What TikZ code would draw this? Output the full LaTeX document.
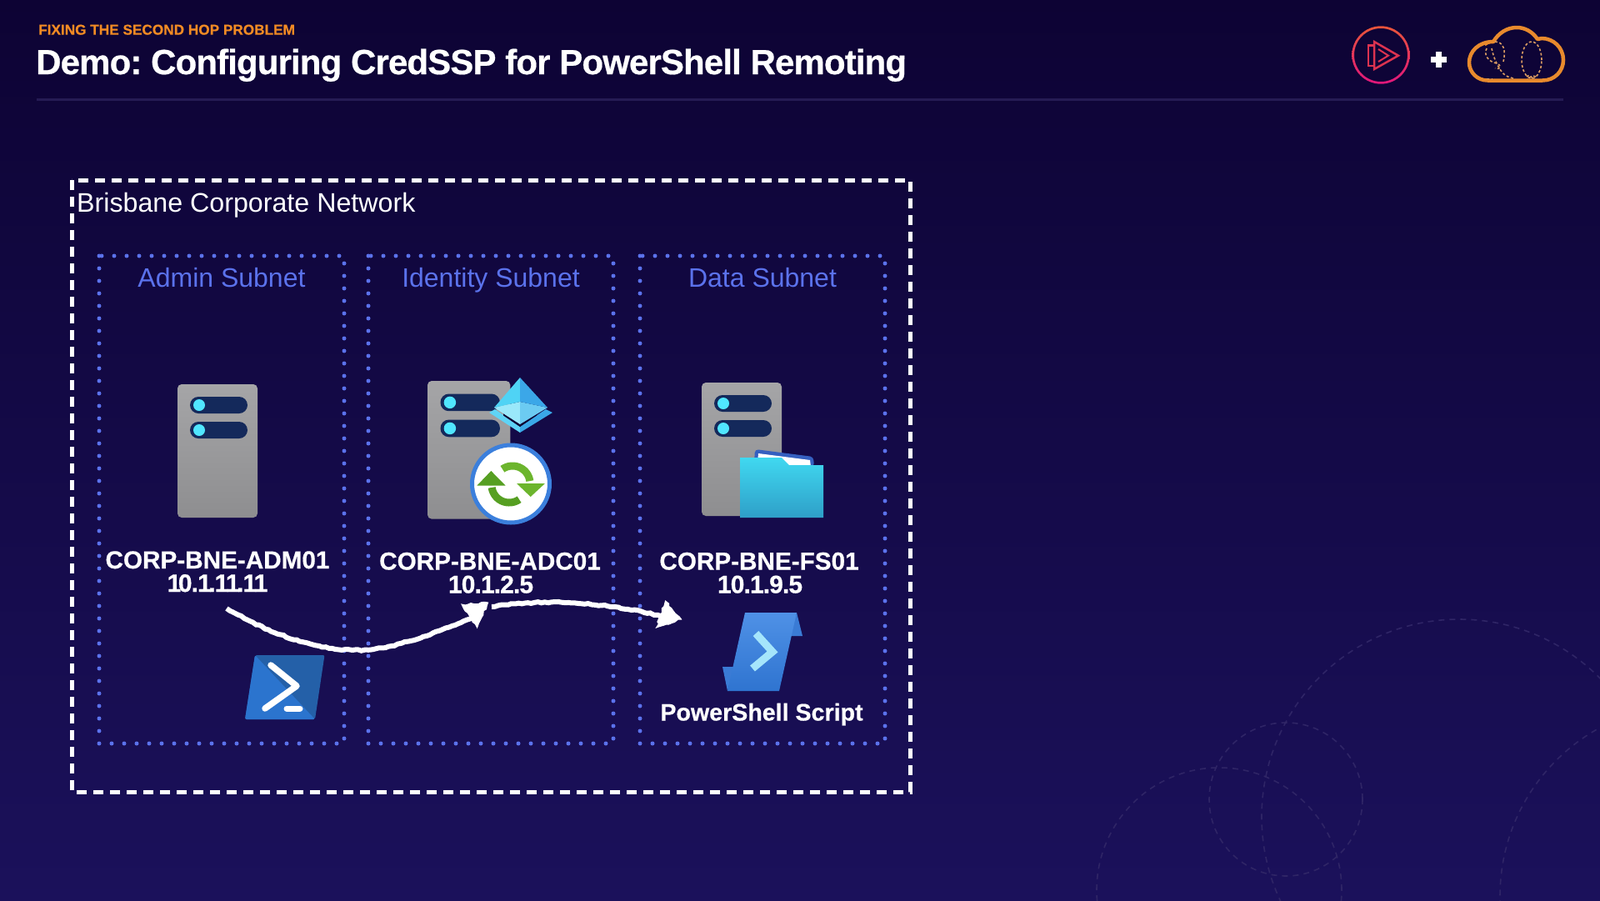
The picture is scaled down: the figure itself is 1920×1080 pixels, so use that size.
\documentclass[tikz,border=0pt]{standalone}
\usepackage{fontspec}
\setmainfont{Liberation Sans}
\newfontface\heavyfont{Liberation Sans Bold}[FakeBold=0.5]
\usetikzlibrary{arrows.meta,decorations.pathmorphing}
\definecolor{bgtop}{HTML}{0D0334}
\definecolor{bgbot}{HTML}{1B115B}
\definecolor{subnetblue}{HTML}{5B72EC}
\definecolor{hdrorange}{HTML}{F08A24}
\definecolor{barblue}{HTML}{14295B}
\definecolor{ledcyan}{HTML}{50E6FF}
\definecolor{ringfaint}{HTML}{2F2566}
\definecolor{rulefaint}{HTML}{251B54}
\definecolor{cloudorange}{HTML}{E88A2D}
\definecolor{cloudtan}{HTML}{DB9C62}
\definecolor{psred}{HTML}{DC3350}
\definecolor{ringtop}{HTML}{E8553A}
\definecolor{ringbot}{HTML}{E0167C}
\definecolor{greenA}{HTML}{6CB52D}
\definecolor{greenB}{HTML}{569F22}
\definecolor{srvtop}{HTML}{A5A5A7}
\definecolor{srvbot}{HTML}{8E8E90}
\tikzset{
  outerbox/.style={draw=white,line width=5pt,dash pattern=on 12pt off 8pt},
  subnetbox/.style={draw=subnetblue,line width=5pt,line cap=round,dash pattern=on 0pt off 15pt},
  subnettitle/.style={anchor=base,text=subnetblue,font=\fontsize{32}{32}\selectfont,inner sep=0pt},
  hostlabel/.style={anchor=base,text=white,font=\heavyfont\fontsize{29.7}{30}\selectfont,inner sep=0pt},
  iplabel/.style={anchor=base,text=white,font=\heavyfont\fontsize{30}{30}\selectfont\addfontfeature{LetterSpace=-3},inner sep=0pt},
  ring/.style={draw=ringfaint,line width=1.6pt,dash pattern=on 7pt off 6pt},
  chalk/.style={draw=white,line width=6pt,decorate,decoration={random steps,segment length=4pt,amplitude=0.8pt}},
  chalktip/.style={draw=white,fill=white,line width=1pt,decorate,decoration={random steps,segment length=4pt,amplitude=1.2pt}},
  greenarc/.style={line width=9pt},
}
\newcommand{\serverbody}[3]{%
  \begin{scope}[shift={(#1,#2)},scale=#3]
  \shade[rounded corners=5pt,top color=srvtop,bottom color=srvbot] (0,0) rectangle (96,160);
  \foreach \dy in {15,45}{
    \fill[barblue,rounded corners=10pt] (15,\dy) rectangle ++(69,20);
    \fill[ledcyan] (26,\dy+10) circle[radius=7pt];
  }
  \end{scope}
}
\begin{document}
\frenchspacing
\begin{tikzpicture}[x=1pt,y=-1pt]
\useasboundingbox (0,0) rectangle (1920,1080);
\shade[top color=bgtop,bottom color=bgbot] (0,0) rectangle (1920,1080);

% faint background rings
\begin{scope}
\clip (0,0) rectangle (1920,1080);
\draw[ring] (1751,980) circle[radius=237pt];
\draw[ring] (1543,959) circle[radius=92pt];
\draw[ring] (1463,1068) circle[radius=147pt];
\draw[ring] (2030,1075) circle[radius=230pt];
\end{scope}

% header
\node[anchor=base west,inner sep=0pt,text=hdrorange,font=\heavyfont\fontsize{17.2}{18}\selectfont] (kicker) at (46,41.6) {FIXING THE SECOND HOP PROBLEM};
\node[anchor=base west,inner sep=0pt,text=white,font=\heavyfont\fontsize{42}{42}\selectfont\addfontfeature{LetterSpace=-2.1}] (title) at (43,89) {Demo: Configuring CredSSP for PowerShell Remoting};
\draw[draw=rulefaint,line width=3pt] (44,119.5) -- (1876,119.5);

% Pluralsight logo
\path[shade,top color=ringtop,bottom color=ringbot,even odd rule]
  (1657,66) circle[radius=34.7pt] (1657,66) circle[radius=32pt];
\draw[psred,line width=2.5pt,line join=miter] (1649,50) -- (1678,66.7) -- (1649,83) -- cycle;
\draw[psred,line width=2.5pt] (1649,54.5) -- (1642,54.5) -- (1642,79) -- (1649,79);
\draw[psred,line width=2pt] (1654,59) -- (1666,66.7) -- (1654,74);
% plus
\fill[white] (1716.5,67.8) rectangle (1736,75.3);
\fill[white] (1722.5,62) rectangle (1730,81);
% cloud
\draw[cloudorange,line width=4.5pt,line join=round]
  (1785,96.5) -- (1851,96.5)
  .. controls (1866,96.5) and (1876,85) .. (1876,72)
  .. controls (1876,57) and (1864,46) .. (1850,46)
  .. controls (1848,46) and (1847,46) .. (1845,47)
  .. controls (1839,38) and (1830,33) .. (1820,33)
  .. controls (1808,33) and (1798,40) .. (1792,50)
  .. controls (1774,50) and (1763,62) .. (1763,75)
  .. controls (1763,87) and (1773,96.5) .. (1785,96.5);
\draw[cloudorange,line width=2.5pt] (1782,54) .. controls (1786,51) and (1790,50) .. (1794,50);
\begin{scope}[cloudtan,line width=1.6pt,dash pattern=on 3pt off 2.5pt]
\draw (1838,72) ellipse[x radius=12pt,y radius=22pt];
\draw (1832,92) .. controls (1834,90) and (1836,90) .. (1840,95);
\draw (1843,92) .. controls (1841,90) and (1839,90) .. (1833,95);
\draw (1794,50) .. controls (1805,50) and (1807,62) .. (1804,74);
\draw (1784,58) .. controls (1780,66) and (1786,74) .. (1796,76) .. controls (1802,78) and (1802,84) .. (1794,82);
\draw (1790,58) .. controls (1792,70) and (1800,86) .. (1806,90) .. controls (1810,93) and (1814,93) .. (1818,95);
\draw (1784,94.5) -- (1790,94.5);
\end{scope}

% containers
\draw[outerbox] (86,216) rectangle (1092,950);
\node[anchor=base west,inner sep=0pt,text=white,font=\fontsize{32.2}{33}\selectfont] (net) at (92,254.5) {Brisbane Corporate Network};
\draw[subnetbox] (119,307) rectangle (413,892);
\draw[subnetbox] (442,307) rectangle (736,892);
\draw[subnetbox] (768,307) rectangle (1062,892);
\node[subnettitle] (s1) at (266,344) {Admin Subnet};
\node[subnettitle] (s2) at (589,344) {Identity Subnet};
\node[subnettitle] (s3) at (915,344) {Data Subnet};

% servers
\serverbody{213}{461}{1}
\serverbody{513}{457}{1.035}
\serverbody{842}{459}{1}

% Azure AD diamond
\fill[color={rgb,255:red,95;green,212;blue,246}] (587,495) -- (594,491) -- (624,512) -- (624,519) -- cycle;
\fill[color={rgb,255:red,58;green,168;blue,232}] (663,495) -- (655,491) -- (624,512) -- (624,519) -- cycle;
\fill[fill=bgtop] (604,496) -- (624,509) -- (644,496) -- (644,498.5) -- (624,512) -- (604,498.5) -- cycle;
\fill[color={rgb,255:red,154;green,232;blue,250}] (593,489) -- (624,482) -- (624,509) -- cycle;
\fill[color={rgb,255:red,108;green,203;blue,242}] (657,489) -- (624,482) -- (624,509) -- cycle;
\fill[color={rgb,255:red,79;green,211;blue,245}] (624,453) -- (624,482) -- (593,489) -- cycle;
\fill[color={rgb,255:red,59;green,167;blue,232}] (624,453) -- (624,482) -- (657,489) -- cycle;

% sync badge
\fill[white] (613,580.5) circle[radius=46.5pt];
\draw[draw={rgb,255:red,59;green,127;blue,220},line width=5pt] (613,580.5) circle[radius=46.5pt];
\draw[greenarc,color=greenA] plot[domain=-125:-8,samples=30] ({615+21*cos(\x)},{580+21*sin(\x)});
\fill[greenA] (620,580) -- (654,580) -- (636.7,596) -- cycle;
\draw[greenarc,color=greenB] plot[domain=55:172,samples=30] ({611+21*cos(\x)},{582+21*sin(\x)});
\fill[greenB] (572.3,582.7) -- (606.7,582.7) -- (589.3,565) -- cycle;

% folder
\fill[color={rgb,255:red,53;green,96;blue,192},rounded corners=4pt] (905,556) -- (906,539) -- (976,548) -- (977,560) -- cycle;
\fill[white] (909,556) -- (910,544) -- (972,552) -- (973,560) -- cycle;
\shade[top color={rgb,255:red,64;green,216;blue,240},bottom color={rgb,255:red,46;green,159;blue,200}]
  (888,549) -- (938,549) -- (947,558) -- (988,558) -- (988,621) -- (888,621) -- cycle;

% host labels
\node[hostlabel] (h1) at (261,682) {CORP-BNE-ADM01};
\node[iplabel] (h1ip) at (261,710) {1\kern-3.5pt 0.1\kern-3.5pt .1\kern-3.5pt 1\kern-3.5pt .1\kern-3.5pt 1};
\node[hostlabel] (h2) at (588,683.5) {CORP-BNE-ADC01};
\node[iplabel] (h2ip) at (589,711.5) {10.1.2.5};
\node[hostlabel] (h3) at (911,683.5) {CORP-BNE-FS01};
\node[iplabel] (h3ip) at (912,711.5) {10.1.9.5};

% PowerShell prompt icon
\fill[color={rgb,255:red,36;green,96;blue,168},rounded corners=2pt] (306,786) -- (389.5,786) -- (378,863) -- (294,863) -- cycle;
\fill[color={rgb,255:red,43;green,116;blue,206},rounded corners=2pt] (306,786) -- (378,863) -- (294,863) -- cycle;
\draw[white,line width=7.5pt,line cap=round,line join=round] (325,798) -- (356,823) -- (318,850);
\draw[white,line width=7pt,line cap=round] (344,850) -- (360,850);

% script icon
\fill[color={rgb,255:red,58;green,123;blue,213}] (956,735) -- (963,763) -- (945,763) -- cycle;
\fill[color={rgb,255:red,58;green,123;blue,213}] (867,800) -- (881,800) -- (873,829) -- cycle;
\shade[top color={rgb,255:red,79;green,145;blue,230},bottom color={rgb,255:red,47;green,116;blue,208}] (894,735) -- (956,735) -- (935,829) -- (873,829) -- cycle;
\draw[color={rgb,255:red,165;green,229;blue,251},line width=9pt,line join=miter] (907,760) -- (927,782) -- (903,802);
\node[hostlabel,font=\heavyfont\fontsize{28.6}{29}\selectfont] (ps) at (914,864.5) {PowerShell Script};

% chalk arrows
\coordinate (a1s) at (272,730);
\coordinate (a1t) at (574,738);
\coordinate (a2s) at (590,728);
\coordinate (a2t) at (800,741);
\draw[chalk] (a1s) .. controls (340,770) and (410,790) .. (470,775) .. controls (510,765) and (545,750) .. (a1t);
\fill[chalktip] (554,725) -- (585.6,723) -- (572.6,753) -- cycle;
\draw[chalk] (a2s) .. controls (650,718) and (730,722) .. (a2t);
\fill[chalktip] (798.5,721) -- (817.6,743) -- (787.6,753) -- cycle;
\end{tikzpicture}
\end{document}
